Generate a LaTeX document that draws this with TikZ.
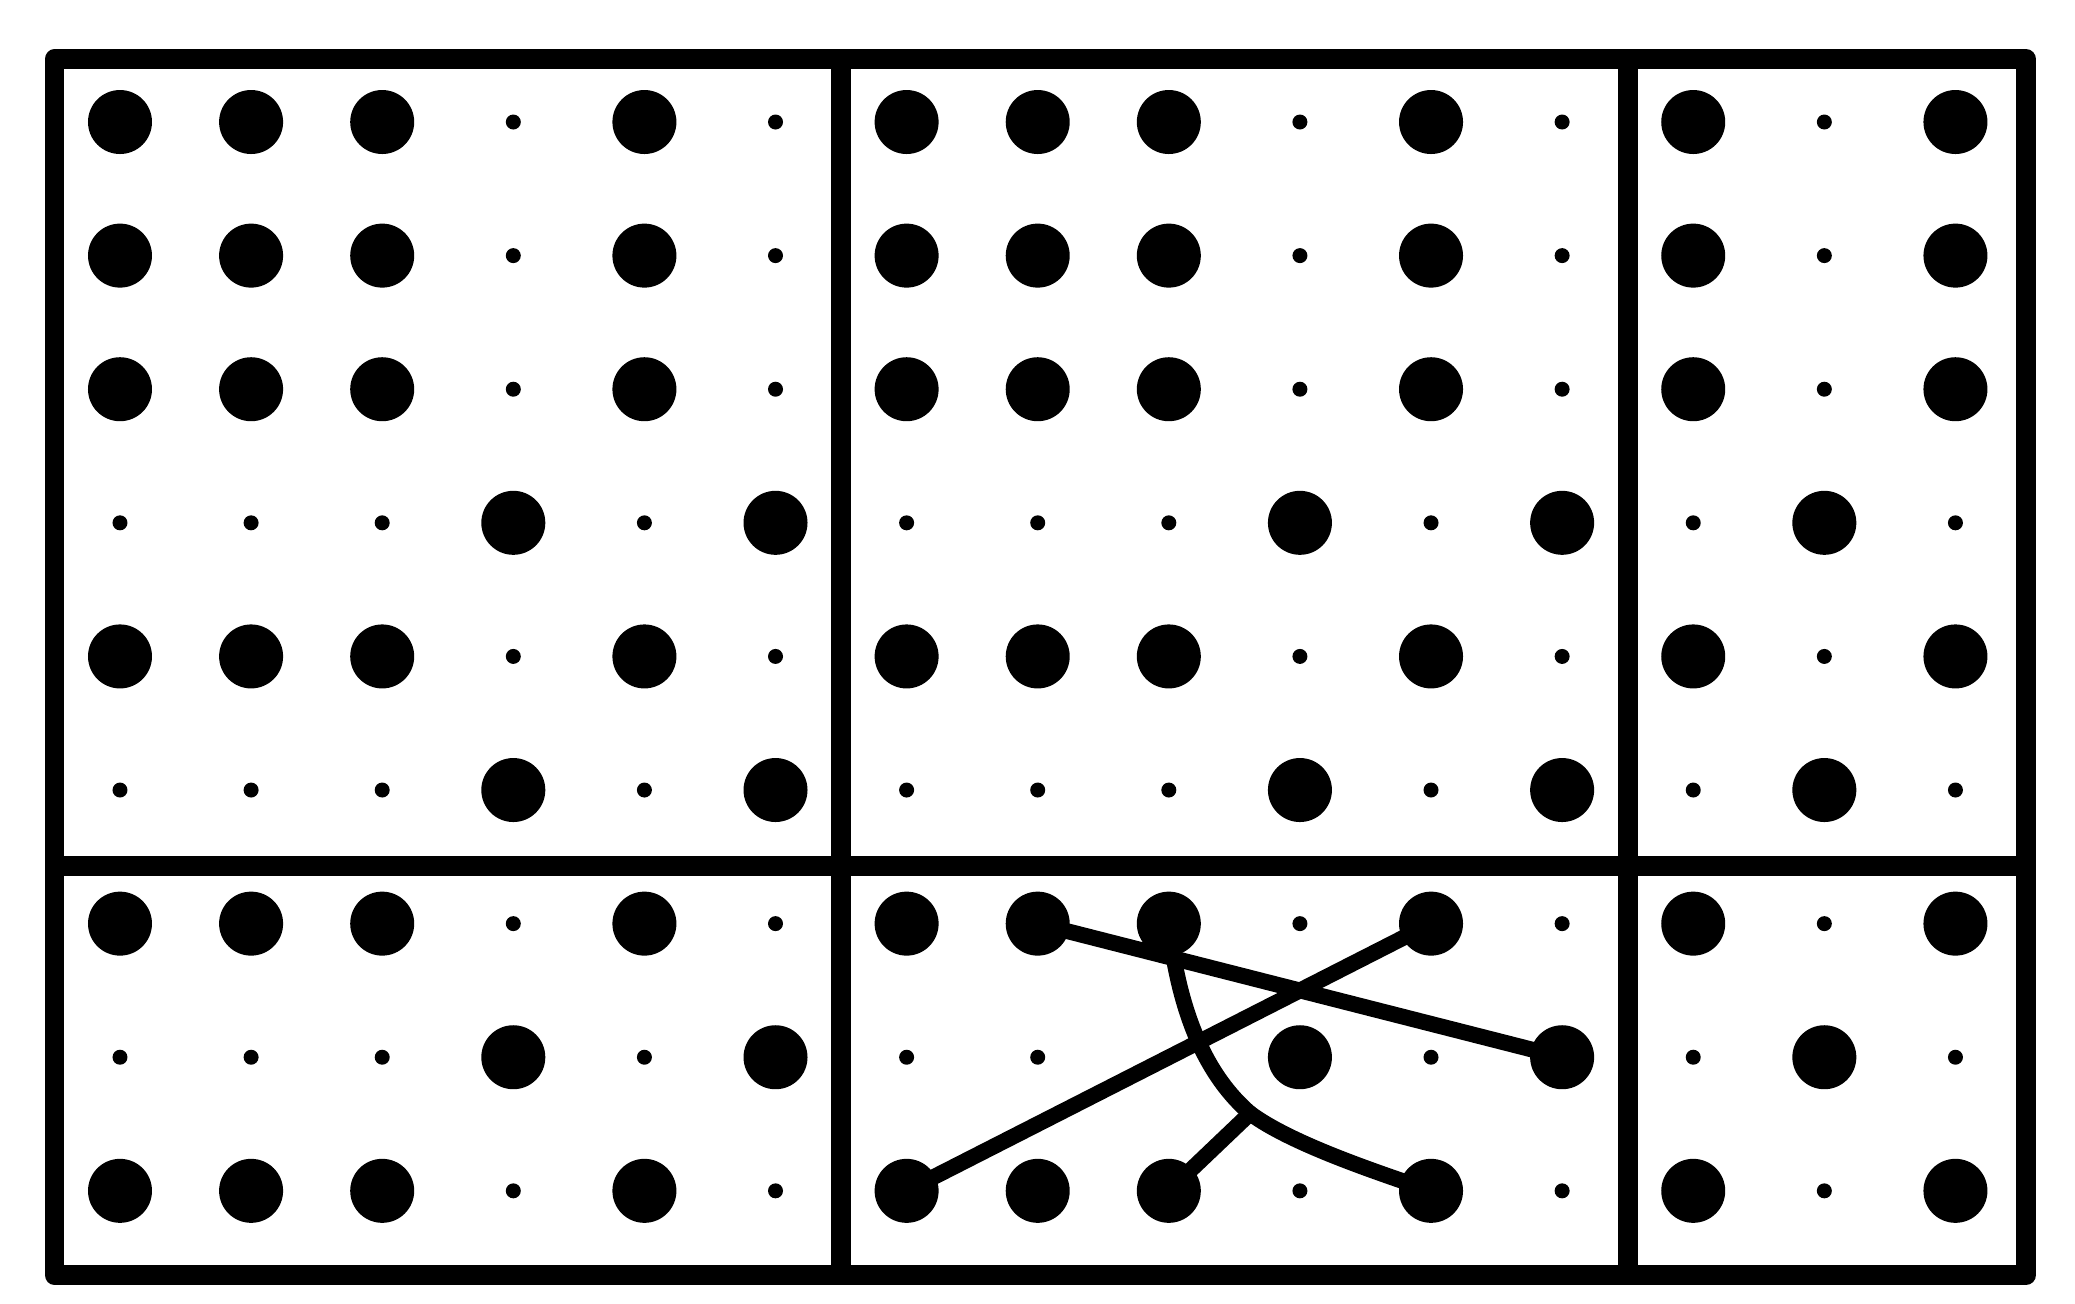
\documentclass[tikz,border=0pt]{standalone}
\usepackage{tikz}

\tikzset{
	bigdot/.style={circle,fill=black,inner sep=0pt,minimum size=0.64cm},
	smalldot/.style={circle,fill=black,inner sep=0pt,minimum size=0.15cm},
	khung/.style={line width=5.6pt},
	noi/.style={line width=4.5pt,line cap=round}
}

\begin{document}
\begin{tikzpicture}[x=1.311cm,y=-1.336cm, line join=round]
	\def\xmin{-0.5} \def\xmax{14.54}
	\def\ymin{-0.47} \def\ymax{8.63}
	\useasboundingbox (-0.9153,-0.9132) rectangle (14.912,8.847);

	% [Khung ngoài và các vách ngăn]
	\draw[khung] (\xmin,\ymin) rectangle (\xmax,\ymax);
	\draw[khung] (5.5,\ymin) -- (5.5,\ymax);
	\draw[khung] (11.5,\ymin) -- (11.5,\ymax);
	\draw[khung] (\xmin,5.57) -- (\xmax,5.57);

	% [Lưới chấm: hàng loại a]
	\foreach \r in {0,1,2,4,6,8} {
		\foreach \c in {0,1,2,4,6,7,8,10,12,14} \node[bigdot] (d-\c-\r) at (\c,\r) {};
		\foreach \c in {3,5,9,11,13} \node[smalldot] (d-\c-\r) at (\c,\r) {};
	}
	% [Lưới chấm: hàng loại b]
	\foreach \r in {3,5,7} {
		\foreach \c in {0,1,2,4,6,7,8,10,12,14} \node[smalldot] (d-\c-\r) at (\c,\r) {};
		\foreach \c in {3,5,9,11,13} \node[bigdot] (d-\c-\r) at (\c,\r) {};
	}

	% [Các đường nối trong ô giữa dưới]
	\draw[noi] (d-7-6.center) -- (d-11-7.center);
	\draw[noi] (d-10-6.center) -- (d-6-8.center);
	\coordinate (nga) at (8.62,7.42); % điểm rẽ nhánh
	\draw[noi] (d-8-6.center) .. controls (8.08,6.7) and (8.3,7.15) .. (nga)
		.. controls (8.95,7.66) and (9.65,7.88) .. (d-10-8.center);
	\draw[noi] (nga) -- (d-8-8.center);
\end{tikzpicture}
\end{document}
